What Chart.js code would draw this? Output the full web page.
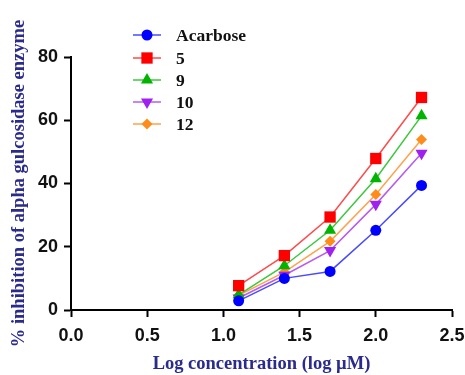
<!DOCTYPE html>
<html lang="en">
<head>
<meta charset="UTF-8">
<title>Alpha glucosidase inhibition</title>
<script src="https://cdn.jsdelivr.net/npm/chart.js"></script>
<style>
  html, body { margin: 0; padding: 0; background: #fff; }
  #wrap { width: 465px; height: 375px; }
</style>
</head>
<body>
<div id="wrap"><canvas id="chartCanvas" width="465" height="375"></canvas></div>
<script>
// data
const logConc = [1.1, 1.4, 1.7, 2.0, 2.3];
const seriesNames = ['Acarbose', '5', '9', '10', '12'];
const acarbose = [2.9, 10.0, 12.2, 25.2, 39.4];
const comp5 = [7.7, 17.2, 29.4, 47.9, 67.2];
const comp9 = [4.8, 14.0, 25.2, 41.5, 61.4];
const comp10 = [3.8, 11.0, 18.8, 33.4, 49.6];
const comp12 = [4.6, 12.0, 21.7, 36.5, 53.9];
const xTicks = [0, 0.5, 1.0, 1.5, 2.0, 2.5];
const yTicks = [0, 20, 40, 60, 80];

const styles = [
  { color: '#0000ff', line: '#4a4aff', point: 'circle', r: 5.5, rot: 0 },
  { color: '#ff0000', line: '#ff4a4a', point: 'rect', r: 8, rot: 0 },
  { color: '#00b400', line: '#3cc83c', point: 'triangle', r: 7, rot: 0 },
  { color: '#a020f0', line: '#b65cf0', point: 'triangle', r: 7, rot: 180 },
  { color: '#ff8c1a', line: '#ffa24a', point: 'rectRot', r: 5.5, rot: 0 }
];
const values = [acarbose, comp5, comp9, comp10, comp12];

const datasets = values.map((vals, i) => ({
  label: seriesNames[i],
  data: vals.map((v, j) => ({ x: logConc[j], y: v })),
  borderColor: styles[i].line,
  backgroundColor: styles[i].color,
  borderWidth: 1.5,
  pointStyle: styles[i].point,
  pointRadius: styles[i].r,
  pointRotation: styles[i].rot,
  pointBorderWidth: 0,
  pointBackgroundColor: styles[i].color,
  tension: 0
}));

// legend drawn as line + marker + label, like the original
const lineLegend = {
  id: 'lineLegend',
  afterDraw(chart) {
    const ctx = chart.ctx;
    const rows = [35, 58, 80, 102, 124];
    ctx.save();
    chart.data.datasets.forEach((ds, i) => {
      const y = rows[i];
      ctx.strokeStyle = ds.borderColor;
      ctx.lineWidth = 1.5;
      ctx.beginPath();
      ctx.moveTo(133, y);
      ctx.lineTo(161, y);
      ctx.stroke();
      ctx.fillStyle = ds.pointBackgroundColor;
      Chart.helpers.drawPoint(ctx, {
        pointStyle: ds.pointStyle, radius: ds.pointRadius,
        rotation: ds.pointRotation, borderWidth: 0
      }, 147, y);
      ctx.fillStyle = '#111';
      ctx.font = 'bold 17.5px "Liberation Serif", "Times New Roman", serif';
      ctx.textBaseline = 'middle';
      ctx.fillText(ds.label, 176, y + 1);
    });
    ctx.restore();
  }
};

const tickFont = { family: '"Liberation Sans", Arial, sans-serif', size: 18, weight: 'bold' };
const titleFont = { family: '"Liberation Serif", "Times New Roman", serif', size: 18.5, weight: 'bold' };

new Chart(document.getElementById('chartCanvas'), {
  type: 'line',
  data: { datasets: datasets },
  options: {
    responsive: false,
    animation: false,
    layout: { padding: { top: 57, right: 0, left: 4, bottom: 0 } },
    plugins: { legend: { display: false }, tooltip: { enabled: false } },
    scales: {
      x: {
        type: 'linear',
        min: 0, max: 2.5,
        afterBuildTicks: s => { s.ticks = xTicks.map(v => ({ value: v })); },
        afterFit: s => { s.height = 65; s.paddingRight = 13; },
        border: { color: '#000', width: 2 },
        grid: { drawOnChartArea: false, drawTicks: true, tickLength: 7, tickColor: '#000', tickWidth: 2 },
        ticks: { color: '#111', font: tickFont, padding: 8, callback: v => v.toFixed(1), maxRotation: 0 },
        title: { display: true, text: 'Log concentration (log µM)', color: '#2b2b8c', font: titleFont, padding: { top: 8, bottom: 0 } }
      },
      y: {
        min: 0, max: 80,
        afterBuildTicks: s => { s.ticks = yTicks.map(v => ({ value: v })); },
        afterFit: s => { s.width = 67; },
        border: { color: '#000', width: 2 },
        grid: { drawOnChartArea: false, drawTicks: true, tickLength: 7, tickColor: '#000', tickWidth: 2 },
        ticks: { color: '#111', font: tickFont, padding: 6 },
        title: { display: true, text: '% inhibition of alpha gulcosidase enzyme', color: '#2b2b8c', font: titleFont, padding: { bottom: 4 } }
      }
    }
  },
  plugins: [lineLegend]
});
</script>
</body>
</html>
